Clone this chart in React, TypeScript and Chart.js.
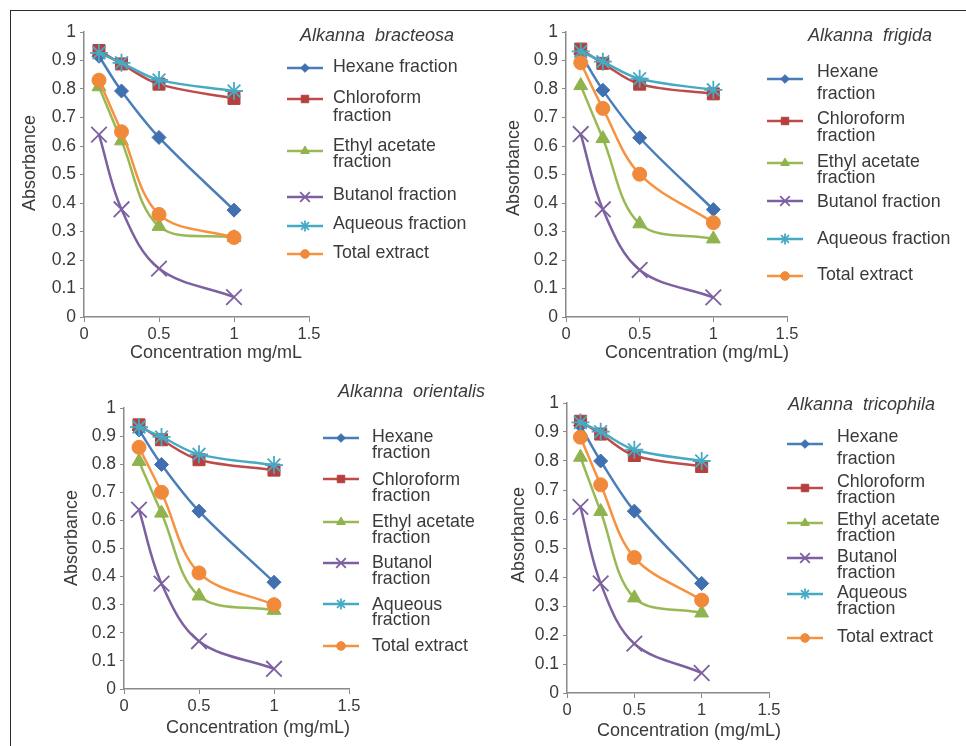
import React, { useEffect, useRef } from "react";
import { Chart, registerables } from "chart.js";
import { drawPoint } from "chart.js/helpers";

Chart.register(...registerables);

// ---------------- DATA ----------------
const concentrations = [0.1, 0.25, 0.5, 1];
const xTickValues = [0, 0.5, 1, 1.5];
const yTickValues = [0, 0.1, 0.2, 0.3, 0.4, 0.5, 0.6, 0.7, 0.8, 0.9, 1];
const seriesNames = [
  "Hexane fraction",
  "Chloroform fraction",
  "Ethyl acetate fraction",
  "Butanol fraction",
  "Aqueous fraction",
  "Total extract",
];

// Alkanna bracteosa
const bracteosaHexane = [0.915, 0.793, 0.63, 0.375];
const bracteosaChloroform = [0.935, 0.888, 0.817, 0.767];
const bracteosaEthylAcetate = [0.808, 0.618, 0.318, 0.279];
const bracteosaButanol = [0.64, 0.378, 0.17, 0.07];
const bracteosaAqueous = [0.927, 0.892, 0.832, 0.793];
const bracteosaTotal = [0.831, 0.65, 0.36, 0.279];

// Alkanna frigida
const frigidaHexane = [0.923, 0.796, 0.629, 0.377];
const frigidaChloroform = [0.94, 0.89, 0.817, 0.783];
const frigidaEthylAcetate = [0.812, 0.626, 0.327, 0.274];
const frigidaButanol = [0.642, 0.378, 0.165, 0.069];
const frigidaAqueous = [0.932, 0.896, 0.836, 0.797];
const frigidaTotal = [0.892, 0.732, 0.501, 0.331];

// Alkanna orientalis
const orientalisHexane = [0.922, 0.799, 0.633, 0.38];
const orientalisChloroform = [0.94, 0.887, 0.816, 0.779];
const orientalisEthylAcetate = [0.81, 0.626, 0.331, 0.28];
const orientalisButanol = [0.638, 0.375, 0.17, 0.072];
const orientalisAqueous = [0.932, 0.897, 0.835, 0.797];
const orientalisTotal = [0.86, 0.70, 0.413, 0.30];

// Alkanna tricophila
const tricophilaHexane = [0.922, 0.8, 0.627, 0.378];
const tricophilaChloroform = [0.937, 0.893, 0.819, 0.781];
const tricophilaEthylAcetate = [0.813, 0.626, 0.328, 0.276];
const tricophilaButanol = [0.642, 0.378, 0.17, 0.069];
const tricophilaAqueous = [0.933, 0.901, 0.839, 0.8];
const tricophilaTotal = [0.882, 0.718, 0.467, 0.32];

const panelTitles = [
  "Alkanna  bracteosa",
  "Alkanna  frigida",
  "Alkanna  orientalis",
  "Alkanna  tricophila",
];
const xAxisTitles = [
  "Concentration mg/mL",
  "Concentration (mg/mL)",
  "Concentration (mg/mL)",
  "Concentration (mg/mL)",
];
const yAxisTitle = "Absorbance";

const legendTextBracteosa = [
  ["Hexane fraction"],
  ["Chloroform", "fraction"],
  ["Ethyl acetate", "fraction"],
  ["Butanol fraction"],
  ["Aqueous fraction"],
  ["Total extract"],
];
const legendTextFrigida = [
  ["Hexane", "fraction"],
  ["Chloroform", "fraction"],
  ["Ethyl acetate", "fraction"],
  ["Butanol fraction"],
  ["Aqueous fraction"],
  ["Total extract"],
];
const legendTextOrientalis = [
  ["Hexane", "fraction"],
  ["Chloroform", "fraction"],
  ["Ethyl acetate", "fraction"],
  ["Butanol", "fraction"],
  ["Aqueous", "fraction"],
  ["Total extract"],
];
const legendTextTricophila = [
  ["Hexane", "fraction"],
  ["Chloroform", "fraction"],
  ["Ethyl acetate", "fraction"],
  ["Butanol", "fraction"],
  ["Aqueous", "fraction"],
  ["Total extract"],
];

// ---------------- STYLE ----------------
const seriesColors = ["#4A7EBB", "#BE4B48", "#98B954", "#7D60A0", "#46AAC5", "#F69240"];
const markerColors = ["#4070B0", "#B5403D", "#8FB34D", "#7D60A0", "#46AAC5", "#F08A3A"];
const pointStyles = ["rectRot", "rect", "triangle", "crossRot", "star", "circle"];
const pointRadii = [7, 8.5, 8, 11, 9, 7];
const pointBorderWidths = [1, 1, 1, 1.8, 1.8, 1];
const FONT = "'Liberation Sans', Arial, Helvetica, sans-serif";
const TEXT_COLOR = "#3a3a3a";
const AXIS_COLOR = "#8a8a8a";

type Layout = {
  canvas: { x: number; y: number; w: number; h: number };
  area: { l: number; t: number; r: number; b: number };
  title: { x: number; y: number };
  xTitle: { x: number; y: number };
  yTitle: { x: number; y: number };
  legend: { x1: number; x2: number; tx: number; lineY: number[]; textY: number[][] };
};

const layouts: Layout[] = [
  {
    canvas: { x: 12, y: 12, w: 468, h: 358 },
    area: { l: 84, t: 32, r: 309, b: 317 },
    title: { x: 300, y: 36 },
    xTitle: { x: 216, y: 353 },
    yTitle: { x: 30, y: 163 },
    legend: {
      x1: 287, x2: 323, tx: 333,
      lineY: [68, 99, 151, 197, 226, 254],
      textY: [[67], [98, 116], [146, 162], [195], [224], [253]],
    },
  },
  {
    canvas: { x: 480, y: 12, w: 486, h: 358 },
    area: { l: 566, t: 32, r: 787, b: 317 },
    title: { x: 808, y: 36 },
    xTitle: { x: 697, y: 353 },
    yTitle: { x: 514, y: 168 },
    legend: {
      x1: 767, x2: 803, tx: 817,
      lineY: [79, 121, 163, 201, 239, 276],
      textY: [[72, 94], [119, 136], [162, 178], [202], [239], [275]],
    },
  },
  {
    canvas: { x: 12, y: 370, w: 492, h: 376 },
    area: { l: 124, t: 408, r: 349, b: 689 },
    title: { x: 338, y: 392 },
    xTitle: { x: 258, y: 728 },
    yTitle: { x: 72, y: 538 },
    legend: {
      x1: 323, x2: 359, tx: 372,
      lineY: [438, 479, 522, 563, 604, 646],
      textY: [[437, 453], [480, 496], [522, 538], [563, 579], [605, 620], [646]],
    },
  },
  {
    canvas: { x: 480, y: 370, w: 486, h: 376 },
    area: { l: 567, t: 403, r: 769, b: 693 },
    title: { x: 788, y: 405 },
    xTitle: { x: 689, y: 731 },
    yTitle: { x: 519, y: 535 },
    legend: {
      x1: 787, x2: 823, tx: 837,
      lineY: [444, 488, 523, 558, 594, 638],
      textY: [[437, 459], [482, 498], [520, 536], [557, 573], [593, 609], [637]],
    },
  },
];

const panelSeries = [
  [bracteosaHexane, bracteosaChloroform, bracteosaEthylAcetate, bracteosaButanol, bracteosaAqueous, bracteosaTotal],
  [frigidaHexane, frigidaChloroform, frigidaEthylAcetate, frigidaButanol, frigidaAqueous, frigidaTotal],
  [orientalisHexane, orientalisChloroform, orientalisEthylAcetate, orientalisButanol, orientalisAqueous, orientalisTotal],
  [tricophilaHexane, tricophilaChloroform, tricophilaEthylAcetate, tricophilaButanol, tricophilaAqueous, tricophilaTotal],
];
const panelLegends = [legendTextBracteosa, legendTextFrigida, legendTextOrientalis, legendTextTricophila];

const Y_AXIS_W = 50;
const X_AXIS_H = 30;

function Panel({ index }: { index: number }) {
  const ref = useRef<HTMLCanvasElement>(null);
  const lay = layouts[index];

  useEffect(() => {
    const cx = lay.canvas.x;
    const cy = lay.canvas.y;
    const series = panelSeries[index];
    const legendText = panelLegends[index];

    const decor = {
      id: "decor",
      afterDraw(chart: any) {
        const ctx: CanvasRenderingContext2D = chart.ctx;
        ctx.save();
        ctx.fillStyle = TEXT_COLOR;
        // panel title
        ctx.font = `italic 18px ${FONT}`;
        ctx.textAlign = "left";
        ctx.textBaseline = "middle";
        ctx.fillText(panelTitles[index], lay.title.x - cx, lay.title.y - cy);
        // axis titles
        ctx.font = `18px ${FONT}`;
        ctx.textAlign = "center";
        ctx.fillText(xAxisTitles[index], lay.xTitle.x - cx, lay.xTitle.y - cy);
        ctx.save();
        ctx.translate(lay.yTitle.x - cx, lay.yTitle.y - cy);
        ctx.rotate(-Math.PI / 2);
        ctx.fillText(yAxisTitle, 0, 0);
        ctx.restore();
        // legend
        const lg = lay.legend;
        for (let i = 0; i < seriesNames.length; i++) {
          const ly = lg.lineY[i] - cy;
          ctx.strokeStyle = seriesColors[i];
          ctx.lineWidth = 2.5;
          ctx.beginPath();
          ctx.moveTo(lg.x1 - cx, ly);
          ctx.lineTo(lg.x2 - cx, ly);
          ctx.stroke();
          ctx.fillStyle = markerColors[i];
          ctx.strokeStyle = markerColors[i];
          ctx.lineWidth = pointBorderWidths[i];
          drawPoint(ctx, {
            pointStyle: pointStyles[i] as any,
            radius: pointRadii[i] * 0.62,
            rotation: 0,
            borderWidth: pointBorderWidths[i],
          }, (lg.x1 + lg.x2) / 2 - cx, ly);
          ctx.fillStyle = TEXT_COLOR;
          ctx.font = `17.8px ${FONT}`;
          ctx.textAlign = "left";
          ctx.textBaseline = "middle";
          legendText[i].forEach((line, k) => {
            ctx.fillText(line, lg.tx - cx, lg.textY[i][k] - cy);
          });
        }
        ctx.restore();
      },
    };

    const chart = new Chart(ref.current as HTMLCanvasElement, {
      type: "line",
      data: {
        datasets: series.map((vals, i) => ({
          label: seriesNames[i],
          data: concentrations.map((x, j) => ({ x, y: vals[j] })),
          borderColor: seriesColors[i],
          backgroundColor: markerColors[i],
          pointBackgroundColor: markerColors[i],
          pointBorderColor: markerColors[i],
          pointStyle: pointStyles[i] as any,
          pointRadius: pointRadii[i],
          pointBorderWidth: pointBorderWidths[i],
          borderWidth: 2.5,
          tension: 0.35,
          fill: false,
          order: seriesNames.length - i,
          clip: false as any,
        })),
      },
      options: {
        responsive: false,
        animation: false,
        events: [],
        layout: {
          padding: {
            left: lay.area.l - cx - Y_AXIS_W,
            top: lay.area.t - cy,
            right: cx + lay.canvas.w - lay.area.r,
            bottom: cy + lay.canvas.h - lay.area.b - X_AXIS_H,
          },
        },
        plugins: {
          legend: { display: false },
          tooltip: { enabled: false },
          title: { display: false },
        },
        scales: {
          x: {
            type: "linear",
            min: 0,
            max: 1.5,
            afterBuildTicks: (s: any) => {
              s.ticks = xTickValues.map((v) => ({ value: v }));
            },
            afterFit: (s: any) => {
              s.height = X_AXIS_H;
            },
            grid: {
              display: true,
              drawOnChartArea: false,
              drawTicks: true,
              tickLength: 5,
              color: AXIS_COLOR,
              lineWidth: 1,
            },
            border: { display: true, color: AXIS_COLOR, width: 1.5 },
            ticks: {
              color: TEXT_COLOR,
              font: { size: 16.5, family: FONT },
              padding: 3,
              maxRotation: 0,
              autoSkip: false,
              callback: (v: any) => String(v),
            },
          },
          y: {
            type: "linear",
            min: 0,
            max: 1,
            afterBuildTicks: (s: any) => {
              s.ticks = yTickValues.map((v) => ({ value: v }));
            },
            afterFit: (s: any) => {
              s.width = Y_AXIS_W;
            },
            grid: {
              display: true,
              drawOnChartArea: false,
              drawTicks: true,
              tickLength: 4,
              color: AXIS_COLOR,
              lineWidth: 1,
            },
            border: { display: true, color: AXIS_COLOR, width: 1.5 },
            ticks: {
              color: TEXT_COLOR,
              font: { size: 17.5, family: FONT },
              padding: 4,
              autoSkip: false,
              callback: (v: any) => String(v),
            },
          },
        },
      },
      plugins: [decor],
    });
    return () => chart.destroy();
  }, []);

  return (
    <canvas
      ref={ref}
      width={lay.canvas.w}
      height={lay.canvas.h}
      style={{
        position: "absolute",
        left: lay.canvas.x,
        top: lay.canvas.y,
        width: lay.canvas.w,
        height: lay.canvas.h,
      }}
    />
  );
}

export default function App() {
  return (
    <div
      style={{
        position: "absolute",
        left: 0,
        top: 0,
        width: 966,
        height: 746,
        background: "#ffffff",
        overflow: "hidden",
      }}
    >
      <div style={{ position: "absolute", left: 10, top: 10, width: 956, height: 1, background: "#2a2a2a" }} />
      <div style={{ position: "absolute", left: 10, top: 10, width: 1, height: 736, background: "#2a2a2a" }} />
      {layouts.map((_, i) => (
        <Panel key={i} index={i} />
      ))}
    </div>
  );
}
